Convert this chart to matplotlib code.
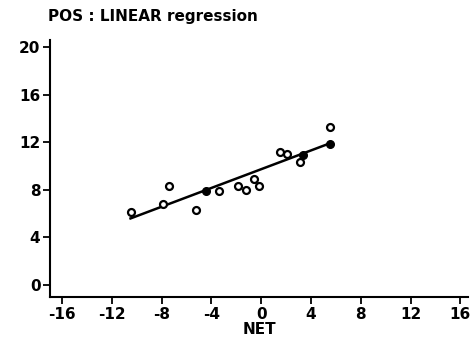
import numpy as np
import matplotlib
matplotlib.use("Agg")
import matplotlib.pyplot as plt

# Messwerte (offene Kreise)
net = [-10.5, -7.9, -7.4, -5.2, -3.4, -1.9, -1.2, -0.56, -0.16, 1.55, 2.1, 3.1, 5.5]
pos = [6.15, 6.8, 8.3, 6.3, 7.9, 8.35, 7.95, 8.9, 8.3, 11.2, 11.0, 10.3, 13.3]

# Regressionsgerade und markierte Punkte darauf
line_x = [-10.5, 5.5]
line_y = [5.6, 11.9]
fit_x = [-4.4, 3.35, 5.5]
fit_y = [7.9, 10.9, 11.85]

xticks = [-16, -12, -8, -4, 0, 4, 8, 12, 16]
yticks = [0, 4, 8, 12, 16, 20]

plt.rcParams['font.family'] = 'DejaVu Sans'
plt.rcParams['axes.unicode_minus'] = False
fig = plt.figure(figsize=(4.73, 3.43), dpi=100)
ax = fig.add_axes([0.106, 0.134, 0.884, 0.75])

ax.plot(line_x, line_y, color='black', linewidth=1.8)
ax.plot(fit_x, fit_y, 'o', color='black', markersize=5.5)
ax.plot(net, pos, 'o', markerfacecolor='white', markeredgecolor='black',
        markeredgewidth=1.6, markersize=5)

ax.set_xlim(-16.96, 16.64)
ax.set_ylim(-1.0, 20.6)
ax.set_xticks(xticks)
ax.set_yticks(yticks)
ax.tick_params(direction='out', length=5, width=1.3, labelsize=11, pad=2)
for lab in ax.get_xticklabels() + ax.get_yticklabels():
    lab.set_fontweight('semibold')

for s in ['top', 'right']:
    ax.spines[s].set_visible(False)
for s in ['left', 'bottom']:
    ax.spines[s].set_linewidth(1.5)

ax.set_xlabel("NET", fontsize=11, fontweight='semibold', labelpad=0)
ax.text(-0.005, 1.09, "POS : LINEAR regression", transform=ax.transAxes,
        fontsize=11, fontweight='semibold', ha='left', va='center')

fig.savefig("out.png", dpi=100)
